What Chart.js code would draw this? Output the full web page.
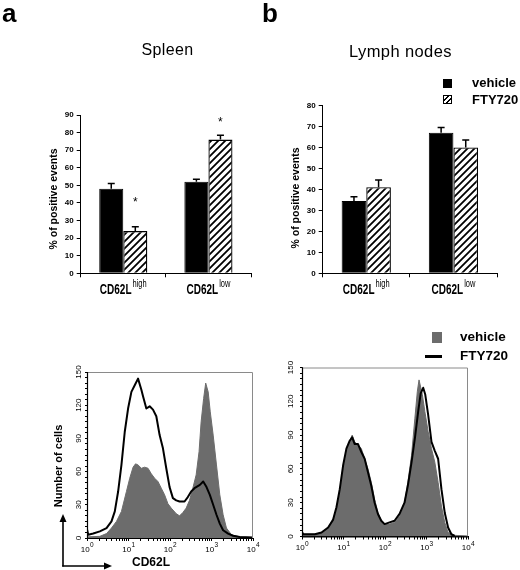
<!DOCTYPE html>
<html><head><meta charset="utf-8">
<script src="https://cdn.jsdelivr.net/npm/chart.js@4.4.1/dist/chart.umd.min.js"></script>
<style>
html,body{margin:0;padding:0;background:#fff;}
#wrap{position:relative;width:520px;height:570px;overflow:hidden;background:#fff;font-family:"Liberation Sans",Arial,sans-serif;color:#000;}
#wrap canvas{position:absolute;}
.t{position:absolute;white-space:nowrap;line-height:1;}
.sw{position:absolute;box-sizing:border-box;}
</style></head>
<body><div id="wrap">
<canvas id="barA" width="260" height="200" style="left:0px;top:100px;width:260px;height:200px;"></canvas>
<canvas id="barB" width="260" height="210" style="left:260px;top:90px;width:260px;height:210px;"></canvas>
<canvas id="histA" width="230" height="200" style="left:40px;top:360px;width:230px;height:200px;"></canvas>
<canvas id="histB" width="230" height="200" style="left:255px;top:355px;width:230px;height:200px;"></canvas>
<svg width="520" height="570" style="position:absolute;left:0;top:0;pointer-events:none">
  <line x1="63" y1="566.5" x2="63" y2="521" stroke="#000" stroke-width="1.6"/>
  <polygon points="63,514 59.5,522 66.5,522" fill="#000"/>
  <line x1="62.2" y1="566" x2="105" y2="566" stroke="#000" stroke-width="1.6"/>
  <polygon points="112,566 104,562.5 104,569.5" fill="#000"/>
</svg>
</div>
<script>
// ---------------- DATA ----------------
const seriesNames = ['vehicle', 'FTY720'];
const barCategoryBase = ['CD62L', 'CD62L'];
const barCategorySup = ['high', 'low'];

// (a) Spleen, % of positive events
const spleenVehicle = [48, 52];
const spleenVehicleErr = [3, 1.5];
const spleenFTY = [24, 76];
const spleenFTYErr = [2.5, 2.5];
const spleenFTYStar = [41.5, 86.5];   // asterisk positions (value units)
const spleenYMax = 90;

// (b) Lymph nodes, % of positive events
const lnVehicle = [34.5, 67];
const lnVehicleErr = [2, 2.5];
const lnFTY = [41, 60];
const lnFTYErr = [3.5, 3.5];
const lnFTYStar = [null, null];
const lnYMax = 80;

// Histograms: x = log10(CD62L intensity), y = number of cells
const histYTickLabels = [0, 30, 60, 90, 120, 150];
const histXDecades = [0, 1, 2, 3, 4];

const spleenFTYLog = [0.00,0.03,0.15,0.31,0.47,0.59,0.67,0.75,0.83,0.91,0.99,1.07,1.15,1.23,1.31,1.35,1.43,1.51,1.59,1.67,1.75,1.83,1.91,1.99,2.07,2.15,2.23,2.35,2.43,2.51,2.59,2.72,2.80,2.88,2.96,3.04,3.12,3.20,3.28,3.40,3.52,3.68,3.99];
const spleenFTYCount = [8,3,4,6,9,15,24,42,66,96,117,132,138,144,134,128,117,119,116,110,93,81,63,46,36,34,33,33,37,42,45,48,51,46,39,30,21,13,7,4,2,1,0.5];

const spleenVehLog = [0.00,0.31,0.47,0.59,0.71,0.83,0.95,1.03,1.11,1.17,1.23,1.31,1.39,1.47,1.55,1.63,1.71,1.79,1.87,1.95,2.03,2.15,2.23,2.31,2.39,2.47,2.55,2.63,2.70,2.75,2.81,2.86,2.92,2.97,3.04,3.12,3.20,3.28,3.36,3.48,3.68,3.99];
const spleenVehCount = [1,1.5,4,9,15,24,42,54,64,67,66,63,64,63,58,54,51,45,39,31,27,22,20,23,27,34,45,57,78,105,126,140,132,114,93,66,39,21,9,3,1,0.5];

const lnFTYLog = [0.00,0.03,0.31,0.47,0.63,0.75,0.83,0.91,0.99,1.07,1.15,1.21,1.27,1.35,1.43,1.51,1.59,1.67,1.75,1.83,1.91,1.99,2.11,2.23,2.35,2.47,2.55,2.64,2.72,2.80,2.86,2.92,2.97,3.04,3.12,3.20,3.28,3.36,3.44,3.52,3.60,3.68];
const lnFTYCount = [4,2,2,3.5,8,15,26,42,63,78,85,88,82,82,75,69,57,45,30,20,14,11,12.5,14,20,30,45,66,87,111,127,132,126,108,84,76,69,42,21,8,2,0.5];

const lnVehLog = [0.00,0.31,0.47,0.63,0.75,0.83,0.91,0.99,1.07,1.15,1.21,1.27,1.35,1.43,1.51,1.59,1.67,1.75,1.83,1.91,1.99,2.11,2.23,2.35,2.47,2.55,2.64,2.72,2.78,2.82,2.90,2.96,3.04,3.12,3.20,3.28,3.36,3.44,3.52,3.68,3.99];
const lnVehCount = [2,2,3.5,8,15,24,39,60,75,85,90,84,81,78,69,60,48,33,21,14,11,11,12.5,18,30,48,72,105,129,139,126,111,93,78,66,48,27,12.5,3.5,1,0.5];

// ---------------- RENDER ----------------
const FF = '"Liberation Sans", Arial, sans-serif';
const GRAY = '#6c6c6c';
const wrap = document.getElementById('wrap');

function txt(s, x, base, size, weight, align, ls) {
  const d = document.createElement('div');
  d.className = 't'; d.textContent = s;
  d.style.fontSize = size + 'px'; d.style.fontWeight = weight;
  if (ls) d.style.letterSpacing = ls + 'px';
  d.style.top = (base - 0.8465 * size) + 'px';
  d.style.left = x + 'px';
  if (align === 'center') d.style.transform = 'translateX(-50%)';
  wrap.appendChild(d); return d;
}
function rtxt(s, cx, cy, size, weight) {
  const d = document.createElement('div');
  d.className = 't'; d.textContent = s;
  d.style.fontSize = size + 'px'; d.style.fontWeight = weight;
  d.style.left = cx + 'px'; d.style.top = cy + 'px';
  d.style.transform = 'translate(-50%,-50%) rotate(-90deg)';
  wrap.appendChild(d); return d;
}
function box(x, y, w, h, css) {
  const d = document.createElement('div'); d.className = 'sw';
  d.style.left = x + 'px'; d.style.top = y + 'px'; d.style.width = w + 'px'; d.style.height = h + 'px';
  Object.assign(d.style, css); wrap.appendChild(d); return d;
}

function hatchTile() {
  const c = document.createElement('canvas'); c.width = 7; c.height = 7;
  const g = c.getContext('2d');
  g.fillStyle = '#fff'; g.fillRect(0, 0, 7, 7);
  g.strokeStyle = '#000'; g.lineWidth = 1.8; g.beginPath();
  g.moveTo(-1, 8); g.lineTo(8, -1);
  g.moveTo(-1, 1); g.lineTo(1, -1);
  g.moveTo(6, 8); g.lineTo(8, 6);
  g.stroke();
  return c;
}

const barDecor = {
  id: 'barDecor',
  afterDatasetsDraw(chart) {
    const ctx = chart.ctx, y = chart.scales.y;
    chart.data.datasets.forEach((ds, di) => {
      const meta = chart.getDatasetMeta(di);
      meta.data.forEach((bar, i) => {
        const top = y.getPixelForValue(ds.data[i] + ds.err[i]);
        ctx.save();
        ctx.strokeStyle = '#000'; ctx.lineWidth = 1.5;
        ctx.beginPath();
        ctx.moveTo(bar.x, bar.y); ctx.lineTo(bar.x, top);
        ctx.moveTo(bar.x - 3.5, top); ctx.lineTo(bar.x + 3.5, top);
        ctx.stroke();
        if (ds.stars && ds.stars[i] != null) {
          ctx.fillStyle = '#000'; ctx.font = '12px ' + FF;
          ctx.textAlign = 'center'; ctx.textBaseline = 'middle';
          ctx.fillText('*', bar.x, y.getPixelForValue(ds.stars[i]) + 2);
        }
        ctx.restore();
      });
    });
  },
  afterDraw(chart) {
    const ctx = chart.ctx, x = chart.scales.x;
    const base = chart.chartArea.bottom + 20.7;
    barCategoryBase.forEach((b, i) => {
      const px = x.getPixelForValue(i);
      const sup = barCategorySup[i];
      ctx.save();
      ctx.fillStyle = '#000'; ctx.textBaseline = 'alphabetic'; ctx.textAlign = 'left';
      ctx.font = 'bold 10px ' + FF; const w1 = ctx.measureText(b).width;
      ctx.font = '7.5px ' + FF; const w2 = ctx.measureText(sup).width;
      const sx = px - (w1 + 1 + w2) / 2;
      ctx.translate(0, base); ctx.scale(1, 1.38);
      ctx.font = 'bold 10px ' + FF; ctx.fillText(b, sx, 0);
      ctx.font = '7.5px ' + FF; ctx.fillText(sup, sx + w1 + 1, -5);
      ctx.restore();
    });
  }
};

function barChart(id, veh, vehErr, fty, ftyErr, ftyStar, yMax, pad) {
  const cv = document.getElementById(id);
  const pat = cv.getContext('2d').createPattern(hatchTile(), 'repeat');
  return new Chart(cv, {
    type: 'bar',
    data: {
      labels: barCategoryBase.map((b, i) => b + barCategorySup[i]),
      datasets: [
        { label: seriesNames[0], data: veh, err: vehErr, stars: null,
          backgroundColor: '#000', borderColor: '#000', borderWidth: 1,
          barPercentage: 1, categoryPercentage: 0.565 },
        { label: seriesNames[1], data: fty, err: ftyErr, stars: ftyStar,
          backgroundColor: pat, borderColor: '#000', borderWidth: 1.3,
          barPercentage: 1, categoryPercentage: 0.565 }
      ]
    },
    options: {
      responsive: false, animation: false,
      layout: { padding: pad },
      plugins: { legend: { display: false }, tooltip: { enabled: false } },
      scales: {
        x: {
          ticks: { display: false },
          grid: { drawOnChartArea: false, tickLength: 4, color: '#000' },
          border: { color: '#000', width: 1 },
          afterFit: s => { s.height = 26.7; }
        },
        y: {
          min: 0, max: yMax,
          ticks: { stepSize: 10, color: '#000', padding: 3, font: { family: FF, size: 8, weight: 'bold' } },
          grid: { drawOnChartArea: false, tickLength: 4, color: '#000' },
          border: { color: '#000', width: 1 },
          afterFit: s => { s.width = 37.7; }
        }
      }
    },
    plugins: [barDecor]
  });
}

const histDecor = {
  id: 'histDecor',
  afterDraw(chart, args, opts) {
    const ctx = chart.ctx, a = chart.chartArea, x = chart.scales.x, y = chart.scales.y;
    ctx.save();
    ctx.lineWidth = 1;
    ctx.strokeStyle = '#8a8a8a';
    ctx.beginPath();
    ctx.moveTo(a.left, a.top + 0.5); ctx.lineTo(a.right - 0.5, a.top + 0.5); ctx.lineTo(a.right - 0.5, a.bottom);
    ctx.stroke();
    ctx.strokeStyle = '#000'; ctx.lineWidth = 1.2;
    ctx.beginPath();
    ctx.moveTo(a.left + 0.5, a.top); ctx.lineTo(a.left + 0.5, a.bottom + 0.5); ctx.lineTo(a.right, a.bottom + 0.5);
    ctx.stroke();
    // y labels (rotated)
    ctx.fillStyle = '#000'; ctx.textAlign = 'center'; ctx.textBaseline = 'middle';
    ctx.font = '8px ' + FF;
    histYTickLabels.forEach(v => {
      ctx.save();
      ctx.translate(a.left - opts.yOff, y.getPixelForValue(v));
      ctx.rotate(-Math.PI / 2);
      ctx.fillText(String(v), 0, 0);
      ctx.restore();
    });
    // x labels 10^n
    ctx.textAlign = 'left'; ctx.textBaseline = 'alphabetic';
    const base = a.bottom + 13.5;
    histXDecades.forEach(d => {
      const px = x.getPixelForValue(d);
      ctx.font = '8px ' + FF; const w1 = ctx.measureText('10').width;
      ctx.font = '6.5px ' + FF; const w2 = ctx.measureText(String(d)).width;
      const sx = px - (w1 + w2) / 2;
      ctx.font = '8px ' + FF; ctx.fillText('10', sx, base);
      ctx.font = '6.5px ' + FF; ctx.fillText(String(d), sx + w1 + 0.3, base - 4.2);
    });
    ctx.restore();
  }
};

const logMinorTicks = [];
for (let d = 0; d < 4; d++) for (let k = 1; k <= 9; k++) logMinorTicks.push(d + Math.log10(k));
logMinorTicks.push(4);
const countTicks = [];
for (let v = 0; v <= 150; v += 5) countTicks.push(v);

function histChart(id, fx, fy, vx, vy, pad, xH, yOff) {
  const cv = document.getElementById(id);
  return new Chart(cv, {
    type: 'line',
    data: {
      datasets: [
        { label: seriesNames[1], data: fx.map((v, i) => ({ x: v, y: fy[i] })),
          borderColor: '#000', borderWidth: 2, pointRadius: 0, fill: false, tension: 0, borderJoinStyle: 'round' },
        { label: seriesNames[0], data: vx.map((v, i) => ({ x: v, y: vy[i] })),
          borderColor: GRAY, backgroundColor: GRAY, borderWidth: 1, pointRadius: 0, fill: 'origin', tension: 0 }
      ]
    },
    options: {
      responsive: false, animation: false,
      layout: { padding: pad },
      plugins: { legend: { display: false }, tooltip: { enabled: false }, histDecor: { yOff: yOff } },
      scales: {
        x: {
          type: 'linear', min: 0, max: 4,
          ticks: { display: false, autoSkip: false },
          afterBuildTicks: s => { s.ticks = logMinorTicks.map(v => ({ value: v })); },
          grid: { drawOnChartArea: false, tickLength: 3, color: '#000' },
          border: { color: '#000', width: 1 },
          afterFit: s => { s.height = xH; }
        },
        y: {
          min: 0, max: 150,
          ticks: { display: false, autoSkip: false },
          afterBuildTicks: s => { s.ticks = countTicks.map(v => ({ value: v })); },
          grid: { drawOnChartArea: false, tickLength: 2, color: '#000' },
          border: { color: '#000', width: 1 },
          afterFit: s => { s.width = 10; }
        }
      }
    },
    plugins: [histDecor]
  });
}

barChart('barA', spleenVehicle, spleenVehicleErr, spleenFTY, spleenFTYErr, spleenFTYStar, spleenYMax,
  { left: 43, right: 9, top: 15, bottom: 0 });
barChart('barB', lnVehicle, lnVehicleErr, lnFTY, lnFTYErr, lnFTYStar, lnYMax,
  { left: 25, right: 23, top: 15.5, bottom: 0 });
histChart('histA', spleenFTYLog, spleenFTYCount, spleenVehLog, spleenVehCount,
  { left: 37, right: 17, top: 12, bottom: 0 }, 22, 8);
histChart('histB', lnFTYLog, lnFTYCount, lnVehLog, lnVehCount,
  { left: 37, right: 17, top: 12.5, bottom: 0 }, 18.5, 11);

// ---------------- TEXT ----------------
txt('a', 2, 22, 26, 'bold');
txt('b', 262, 22, 26, 'bold');
txt('Spleen', 167.5, 55.5, 16, 'normal', 'center', 0.4);
txt('Lymph nodes', 400.5, 56.5, 16.5, 'normal', 'center', 0.4);
rtxt('% of positive events', 53, 198.5, 10.5, 'bold');
rtxt('% of positive events', 295, 197.5, 10.5, 'bold');
// bar legend
box(443, 79, 9, 9, { background: '#000' });
box(443, 95, 9, 9, { border: '1px solid #000',
  background: 'repeating-linear-gradient(135deg,#fff 0px,#fff 2.2px,#000 2.2px,#000 3.8px)' });
txt(seriesNames[0], 472, 87.5, 13, 'bold');
txt(seriesNames[1], 472, 104.5, 13, 'bold');
// histogram legend
box(432, 332, 10, 11, { background: GRAY });
box(425, 354.5, 17, 3, { background: '#000' });
txt(seriesNames[0], 460, 341.7, 13.5, 'bold');
txt(seriesNames[1], 460, 360.7, 13.5, 'bold');
rtxt('Number of cells', 58, 466, 11, 'bold');
txt('CD62L', 151, 566.5, 12, 'bold', 'center');
</script>
</body></html>
